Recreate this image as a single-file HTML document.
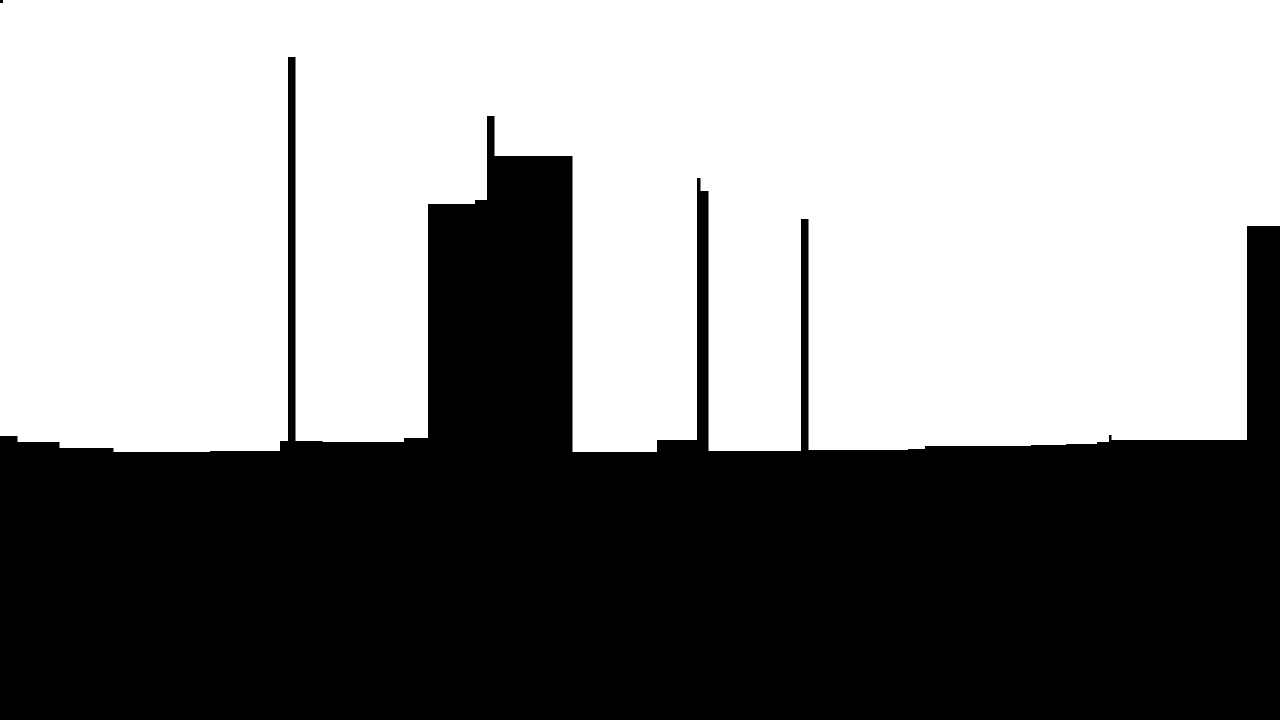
<!DOCTYPE html>
<html>
<head>
<meta charset="utf-8">
<style>
html,body{margin:0;padding:0;background:#fff;width:1280px;height:720px;overflow:hidden;}
svg{display:block;}
</style>
</head>
<body>
<svg id="chart" width="1280" height="720" viewBox="0 0 1280 720" xmlns="http://www.w3.org/2000/svg">
<rect x="0" y="0" width="3" height="3" fill="#000"/>
</svg>
<script>
// Segment end positions along the category axis (units 0..1280)
const segEnds = [17, 59, 113, 210, 280, 288, 295, 322, 404, 428, 475, 487, 494, 572, 657, 697, 700, 708, 801, 808, 908, 925, 1031, 1066, 1097, 1109, 1111, 1247, 1280];
// Heights of each segment (units above baseline)
const heights = [284, 278, 272, 268, 269, 279, 663, 279, 278, 282, 516, 520, 604, 564, 268, 280, 542, 529, 269, 501, 270, 271, 274, 275, 276, 278, 285, 280, 494];

const W = 1280, H = 720;
function x(v){ return v / 1280 * W; }
function y(v){ return H - v / 720 * H; }

const svg = document.getElementById('chart');
let start = 0;
for (let i = 0; i < segEnds.length; i++) {
  const r = document.createElementNS('http://www.w3.org/2000/svg', 'rect');
  
  
  r.setAttribute('x', x(start));
  r.setAttribute('width', x(segEnds[i]) - x(start) + 0.5);
  r.setAttribute('y', y(heights[i]));
  r.setAttribute('height', H - y(heights[i]));
  r.setAttribute('fill', '#000');
  svg.appendChild(r);
  start = segEnds[i];
}
</script>
</body>
</html>
